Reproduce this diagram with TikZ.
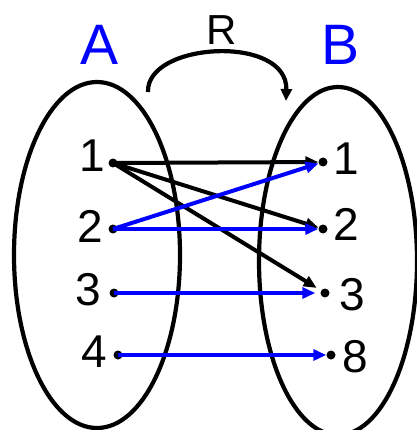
\documentclass[tikz,border=0pt]{standalone}
\usepackage{fontspec}
\setmainfont{Liberation Sans}
\usetikzlibrary{arrows.meta}
\definecolor{setblue}{RGB}{0,0,255}
\begin{document}
\begin{tikzpicture}[x=1pt,y=-1pt,
  dot/.style={circle,fill=black,inner sep=0pt,minimum size=9pt},
  lbl/.style={font=\fontsize{46}{46}\selectfont,inner sep=0pt},
  rlbl/.style={font=\fontsize{42}{42}\selectfont,inner sep=0pt},
  setname/.style={font=\fontsize{57}{57}\selectfont,text=setblue,inner sep=0pt},
  setline/.style={line width=4.2pt},
  blk/.style={line width=4pt,-{Triangle[length=13pt,width=11pt]}},
  blu/.style={line width=4pt,draw=setblue,-{Triangle[length=13pt,width=11pt]}}]
\useasboundingbox (0,0) rectangle (416,430);
\draw[setline] (97,255) ellipse [x radius=83, y radius=173];
\draw[setline] (338,261) ellipse [x radius=79, y radius=174];
\node[setname] (A) at (100,45) {A};
\node[setname] (B) at (341,45) {B};
\node[rlbl] (R) at (222,30) {R};
\coordinate (rs) at (148,92);
\coordinate (re) at (286,101);
\draw[line width=4.2pt,-{Triangle[length=12pt,width=11pt]}] (rs) .. controls (146,42) and (288,34) .. (re);
% left elements
\node[dot] (a1) at (113,163) {};
\node[dot] (a2) at (113,229) {};
\node[dot] (a3) at (114,293) {};
\node[dot] (a4) at (118,355) {};
\node[lbl] (la1) at (92,156) {1};
\node[lbl] (la2) at (90,226) {2};
\node[lbl] (la3) at (88.5,290) {3};
\node[lbl] (la4) at (94.5,352) {4};
% right elements
\node[dot] (b1) at (323,162) {};
\node[dot] (b2) at (323,229) {};
\node[dot] (b3) at (325,293) {};
\node[dot] (b4) at (331,355) {};
\node[lbl] (lb1) at (346,158.5) {1};
\node[lbl] (lb2) at (346,224) {2};
\node[lbl] (lb3) at (352,295) {3};
\node[lbl] (lb4) at (355,357) {8};
% arrows
\draw[blk] (a1.center) -- (b1);
\draw[blk] (a1.center) -- (b2);
\draw[blk,shorten >=5pt] (a1.center) -- (b3);
\draw[blu] (a2.center) -- (b1);
\draw[blu] (a2.center) -- (b2);
\draw[blu,shorten >=5pt] (a3.center) -- (b3);
\draw[blu] (a4.center) -- (b4);
\end{tikzpicture}
\end{document}
